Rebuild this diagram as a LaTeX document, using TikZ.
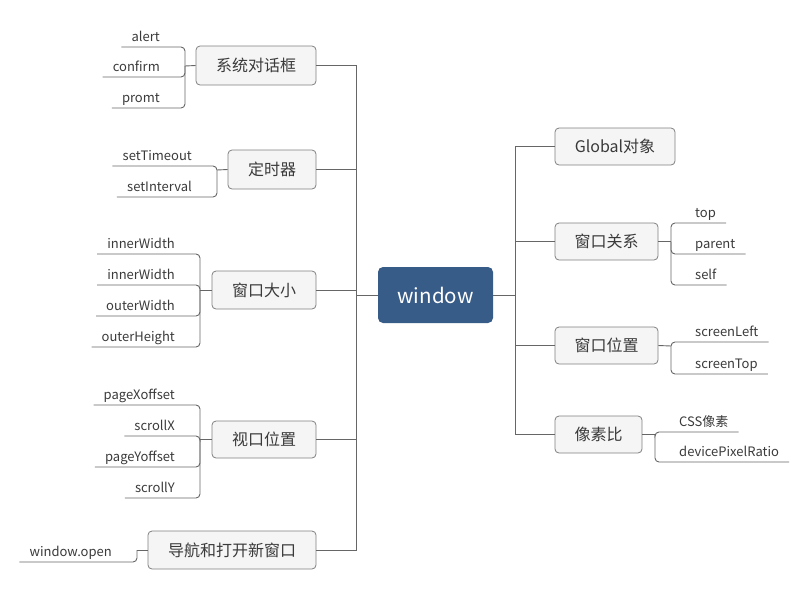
\documentclass[tikz,border=0pt]{standalone}
\usepackage{fontspec}
\setmainfont{Noto Sans CJK SC}
\definecolor{linec}{HTML}{666666}
\definecolor{boxfill}{HTML}{F5F5F5}
\definecolor{boxdraw}{HTML}{808080}
\definecolor{rootfill}{HTML}{385C88}
\definecolor{txt}{HTML}{3A3A3A}
\newcommand{\mmtopicfont}{\fontsize{16}{19}\selectfont}
\newcommand{\mmrootfont}{\fontsize{20.5}{24}\selectfont}
\newcommand{\mmleaffont}{\fontsize{13}{16}\selectfont}
\tikzset{
  conn/.style={draw=linec, line width=0.9pt},
  br/.style={conn, rounded corners=4pt},
  topic/.style={draw=boxdraw, fill=boxfill, rounded corners=4pt, line width=0.8pt,
    text=txt, font=\mmtopicfont, inner sep=0pt},
  root/.style={fill=rootfill, rounded corners=5pt, text=white, font=\mmrootfont,
    minimum width=115pt, minimum height=56pt, inner sep=0pt},
  leaf/.style={text=txt, font=\mmleaffont, inner xsep=10pt, inner ysep=3pt,
    text height=9.5pt, text depth=2.5pt},
  lleaf/.style={leaf, anchor=south east},
  rleaf/.style={leaf, anchor=south west}
}
\begin{document}
\begin{tikzpicture}[x=1pt,y=-1pt]
\useasboundingbox (0,0) rectangle (807,590);

% root
\node[root] (win) at (435.5,295) {window};
\coordinate (tl) at (356,295);
\coordinate (tr) at (515,295);
\draw[conn] (win.west) -- (tl);
\draw[conn] (win.east) -- (tr);

% left topics
\node[topic, minimum width=120pt, minimum height=39pt] (dlg) at (256,65.5) {系统对话框};
\node[topic, minimum width=88pt, minimum height=39pt] (tmr) at (272,169.5) {定时器};
\node[topic, minimum width=104pt, minimum height=38pt] (size) at (264,290) {窗口大小};
\node[topic, minimum width=104pt, minimum height=37pt] (view) at (264,439.5) {视口位置};
\node[topic, minimum width=168pt, minimum height=38pt] (nav) at (232,550) {导航和打开新窗口};
\foreach \n in {dlg,tmr,size,view,nav}{\draw[conn] (\n.east) -| (tl);}

% right topics
\node[topic, minimum width=120pt, minimum height=37pt] (glob) at (615,146.5) {Global对象};
\node[topic, minimum width=103pt, minimum height=37pt] (rel) at (606.5,241.5) {窗口关系};
\node[topic, minimum width=103pt, minimum height=37pt] (pos) at (606.5,345.5) {窗口位置};
\node[topic, minimum width=87pt, minimum height=37pt] (ratio) at (598.5,434.5) {像素比};
\foreach \n in {glob,rel,pos,ratio}{\draw[conn] (\n.west) -| (tr);}

% leaves of 系统对话框
\coordinate (bdlg) at (185,66);
\node[lleaf] (l1) at (170,47) {alert};
\node[lleaf] (l2) at (170,77) {confirm};
\node[lleaf] (l3) at (170,108) {promt};
\draw[conn] (dlg.west) -- (bdlg);
\foreach \n in {l1,l2,l3}{\draw[br] (\n.south west) -- (\n.south east) -| (bdlg);}

% leaves of 定时器
\coordinate (btmr) at (217,170);
\node[lleaf] (t1) at (202,166) {setTimeout};
\node[lleaf] (t2) at (202,197) {setInterval};
\draw[conn] (tmr.west) -- (btmr);
\foreach \n in {t1,t2}{\draw[br] (\n.south west) -- (\n.south east) -| (btmr);}

% leaves of 窗口大小
\coordinate (bsize) at (200,290);
\node[lleaf] (s1) at (185,254) {innerWidth};
\node[lleaf] (s2) at (185,285) {innerWidth};
\node[lleaf] (s3) at (185,316) {outerWidth};
\node[lleaf] (s4) at (185,347) {outerHeight};
\draw[conn] (size.west) -- (bsize);
\foreach \n in {s1,s2,s3,s4}{\draw[br] (\n.south west) -- (\n.south east) -| (bsize);}

% leaves of 视口位置
\coordinate (bview) at (200,439.5);
\node[lleaf] (v1) at (185,405) {pageXoffset};
\node[lleaf] (v2) at (185,436) {scrollX};
\node[lleaf] (v3) at (185,467) {pageYoffset};
\node[lleaf] (v4) at (185,498) {scrollY};
\draw[conn] (view.west) -- (bview);
\foreach \n in {v1,v2,v3,v4}{\draw[br] (\n.south west) -- (\n.south east) -| (bview);}

% leaf of 导航
\coordinate (bnav) at (137,550);
\node[lleaf] (n1) at (122,562) {window.open};
\draw[conn] (nav.west) -- (bnav);
\draw[br] (n1.south west) -- (n1.south east) -| (bnav);

% leaves of 窗口关系
\coordinate (brel) at (671,241.5);
\node[rleaf] (r1) at (685,223) {top};
\node[rleaf] (r2) at (685,254) {parent};
\node[rleaf] (r3) at (685,285) {self};
\draw[conn] (rel.east) -- (brel);
\foreach \n in {r1,r2,r3}{\draw[br] (\n.south east) -- (\n.south west) -| (brel);}

% leaves of 窗口位置
\coordinate (bpos) at (671,346);
\node[rleaf] (p1) at (685,342) {screenLeft};
\node[rleaf] (p2) at (685,374) {screenTop};
\draw[conn] (pos.east) -- (bpos);
\foreach \n in {p1,p2}{\draw[br] (\n.south east) -- (\n.south west) -| (bpos);}

% leaves of 像素比
\coordinate (bratio) at (655,434.5);
\node[rleaf] (x1) at (669,432) {CSS像素};
\node[rleaf] (x2) at (669,462) {devicePixelRatio};
\draw[conn] (ratio.east) -- (bratio);
\foreach \n in {x1,x2}{\draw[br] (\n.south east) -- (\n.south west) -| (bratio);}
\end{tikzpicture}
\end{document}
